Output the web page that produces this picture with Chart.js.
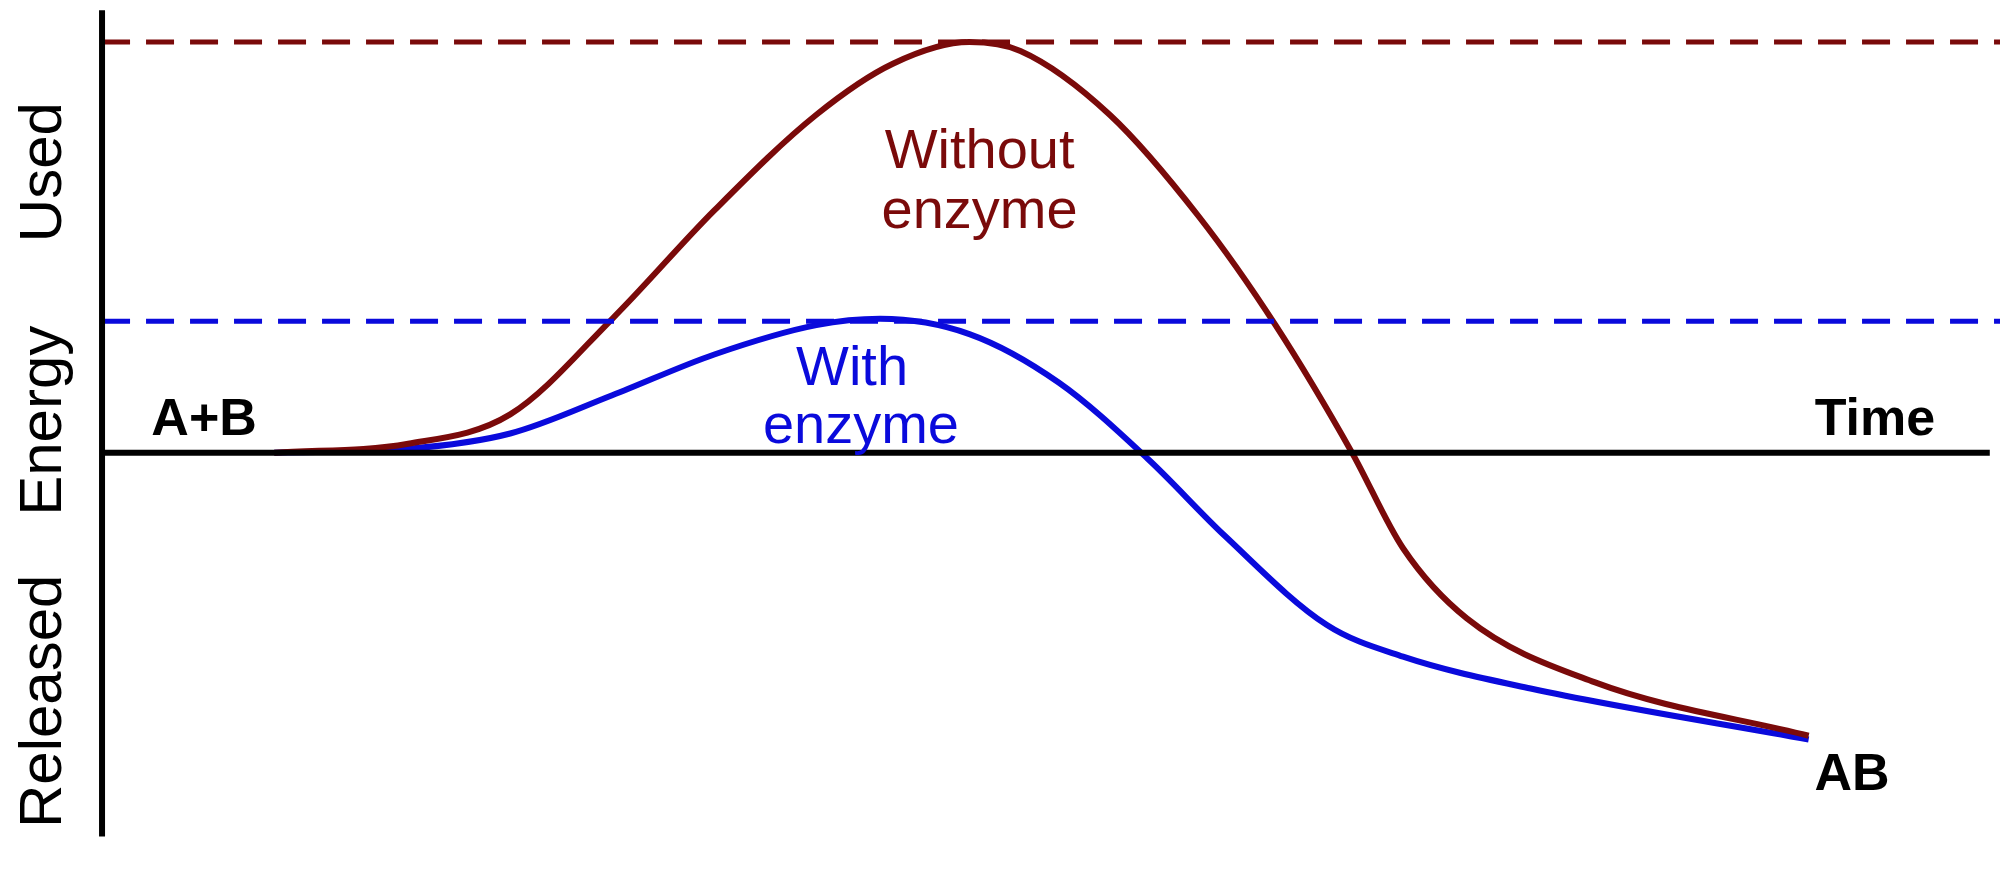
<!DOCTYPE html>
<html><head><meta charset="utf-8">
<script src="https://cdn.jsdelivr.net/npm/chart.js@4"></script>
<style>html,body{margin:0;padding:0;background:#fff}#w{width:2000px;height:890px}</style>
</head><body><div id="w"><canvas id="c"></canvas></div>
<script>
// coordinates in reference "units" (x: 0..1568, y: 0..698 top-down)
const timeRed = [215,320,400,480,560,640,700,760,800,870,940,1000,1060,1100,1150,1250,1418];
const energyRed = [355,348,325,250,165,90,50,33,40,90,170,255,355,430,485,535,577];
const timeBlue = [215,320,400,480,560,640,690,760,830,900,960,1040,1100,1200,1418];
const energyBlue = [355,352,340,310,278,255,250,262,300,360,420,490,515,540,580];
const peakRed = 33, peakBlue = 252, baseline = 355;
const pts=(xs,ys)=>xs.map((x,i)=>({x,y:ys[i]}));
const labels = [
 {t:'A+B',x:160,y:330,c:'#000',f:'bold 52px "Liberation Sans", Arial'},
 {t:'Time',x:1470,y:330,c:'#000',f:'bold 52px "Liberation Sans", Arial'},
 {t:'AB',x:1452,y:608,c:'#000',f:'bold 52px "Liberation Sans", Arial'},
 {t:'Without',x:768,y:120,c:'#7a0a0a',f:'56px "Liberation Sans", Arial'},
 {t:'enzyme',x:768,y:167,c:'#7a0a0a',f:'56px "Liberation Sans", Arial'},
 {t:'With',x:668,y:290,c:'#0a0adc',f:'56px "Liberation Sans", Arial'},
 {t:'enzyme',x:675,y:335,c:'#0a0adc',f:'56px "Liberation Sans", Arial'}
];
const axisLabels = [{t:'Released',y:550},{t:'Energy',y:330},{t:'Used',y:135}];
const txt={id:'txt',afterDraw(ch){const g=ch.ctx,xs=ch.scales.x,ys=ch.scales.y;g.save();g.textAlign='center';g.textBaseline='middle';
 labels.forEach(l=>{g.font=l.f;g.fillStyle=l.c;g.fillText(l.t,xs.getPixelForValue(l.x),ys.getPixelForValue(l.y));});
 g.font='60px "Liberation Sans", Arial';g.fillStyle='#000';
 axisLabels.forEach(l=>{g.save();g.translate(xs.getPixelForValue(35),ys.getPixelForValue(l.y));g.rotate(-Math.PI/2);g.fillText(l.t,0,0);g.restore();});
 g.restore();}};
new Chart(document.getElementById('c'),{type:'line',
 data:{datasets:[
  {data:[{x:80,y:8},{x:80,y:656}],borderColor:'#000',borderWidth:6,pointRadius:0},
  {data:[{x:80,y:baseline},{x:1560,y:baseline}],borderColor:'#000',borderWidth:6,pointRadius:0},
  {data:[{x:80,y:peakRed},{x:1568,y:peakRed}],borderColor:'#7a0a0a',borderWidth:5,borderDash:[28,16],pointRadius:0},
  {data:[{x:80,y:peakBlue},{x:1568,y:peakBlue}],borderColor:'#0a0adc',borderWidth:5,borderDash:[28,16],pointRadius:0},
  {data:pts(timeRed,energyRed),borderColor:'#7a0a0a',borderWidth:6,pointRadius:0,cubicInterpolationMode:'monotone'},
  {data:pts(timeBlue,energyBlue),borderColor:'#0a0adc',borderWidth:6,pointRadius:0,cubicInterpolationMode:'monotone'}
 ]},
 options:{responsive:true,maintainAspectRatio:false,animation:false,layout:{padding:0},
  plugins:{legend:{display:false},tooltip:{enabled:false}},
  scales:{x:{type:'linear',min:0,max:1568,display:false},y:{type:'linear',min:0,max:698,reverse:true,display:false}}},
 plugins:[txt]});
</script></body></html>
